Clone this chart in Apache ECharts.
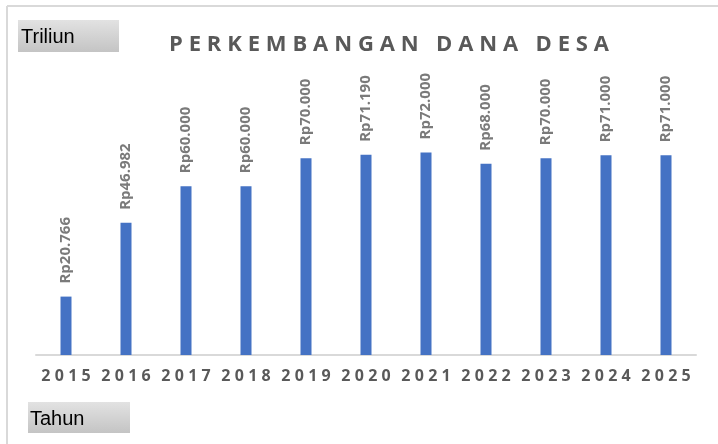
<!DOCTYPE html>
<html>
<head>
<meta charset="utf-8">
<script src="https://cdn.jsdelivr.net/npm/echarts@6/dist/echarts.min.js"></script>
<style>
  html, body { margin: 0; padding: 0; background: #fff; }
  #chart { width: 718px; height: 444px; }
</style>
</head>
<body>
<div id="chart"></div>
<script>
// data (triliun rupiah)
const years = ['2015', '2016', '2017', '2018', '2019', '2020', '2021', '2022', '2023', '2024', '2025']
const danaDesa = [20.766, 46.982, 60, 60, 70, 71.19, 72, 68, 70, 71, 71]
const valueLabels = ['Rp20.766', 'Rp46.982', 'Rp60.000', 'Rp60.000', 'Rp70.000', 'Rp71.190', 'Rp72.000', 'Rp68.000', 'Rp70.000', 'Rp71.000', 'Rp71.000']

const GAP = '\u2009\u200a'
// spread letters like the original's wide tracking
function spaced(s) {
  return s.split(' ').map(w => w.split('').join(GAP)).join(GAP + ' ' + GAP)
}

const boxFill = new echarts.graphic.LinearGradient(0, 0, 0, 1, [
  { offset: 0, color: '#e2e2e2' },
  { offset: 1, color: '#c4c4c4' }
])

let chart = echarts.init(document.getElementById('chart'))
chart.setOption({
  animation: false,
  title: {
    text: spaced('PERKEMBANGAN DANA DESA'),
    left: 384,
    textAlign: 'center',
    top: 29,
    textStyle: {
      fontFamily: 'Open Sans',
      fontSize: 22,
      fontWeight: 'bold',
      color: '#595959'
    }
  },
  grid: {
    left: 36,
    right: 22,
    top: 130,
    bottom: 89
  },
  xAxis: {
    type: 'category',
    data: years,
    axisLine: { lineStyle: { color: '#d9d9d9', width: 2 } },
    axisTick: { show: false },
    axisLabel: {
      interval: 0,
      margin: 13,
      fontFamily: 'Open Sans',
      fontSize: 16,
      fontWeight: 'bold',
      color: '#595959',
      formatter: v => v.split('').join(GAP)
    }
  },
  yAxis: {
    type: 'value',
    min: 0,
    max: 80,
    show: false
  },
  series: [
    {
      type: 'bar',
      data: danaDesa,
      barWidth: 11,
      itemStyle: { color: '#4472c4' },
      label: {
        show: true,
        position: 'top',
        rotate: 90,
        align: 'left',
        verticalAlign: 'middle',
        distance: 13,
        fontFamily: 'Open Sans',
        fontSize: 15,
        fontWeight: 'bold',
        color: '#7a7a7a',
        formatter: p => valueLabels[p.dataIndex]
      }
    }
  ],
  graphic: [
    // frame lines
    { type: 'line', shape: { x1: 7, y1: 6, x2: 718, y2: 6 }, style: { stroke: '#d9d9d9', lineWidth: 2 } },
    { type: 'line', shape: { x1: 7, y1: 6, x2: 7, y2: 444 }, style: { stroke: '#d9d9d9', lineWidth: 2 } },
    // unit box
    { type: 'rect', shape: { x: 18, y: 20, width: 101, height: 32 }, style: { fill: boxFill } },
    {
      type: 'text', x: 21, y: 37,
      style: { text: 'Triliun', fontFamily: 'Liberation Sans', fontSize: 20, fill: '#000', verticalAlign: 'middle' }
    },
    // axis name box
    { type: 'rect', shape: { x: 28, y: 402, width: 102, height: 31 }, style: { fill: boxFill } },
    {
      type: 'text', x: 30, y: 419,
      style: { text: 'Tahun', fontFamily: 'Liberation Sans', fontSize: 20, fill: '#000', verticalAlign: 'middle' }
    }
  ]
})
</script>
</body>
</html>
